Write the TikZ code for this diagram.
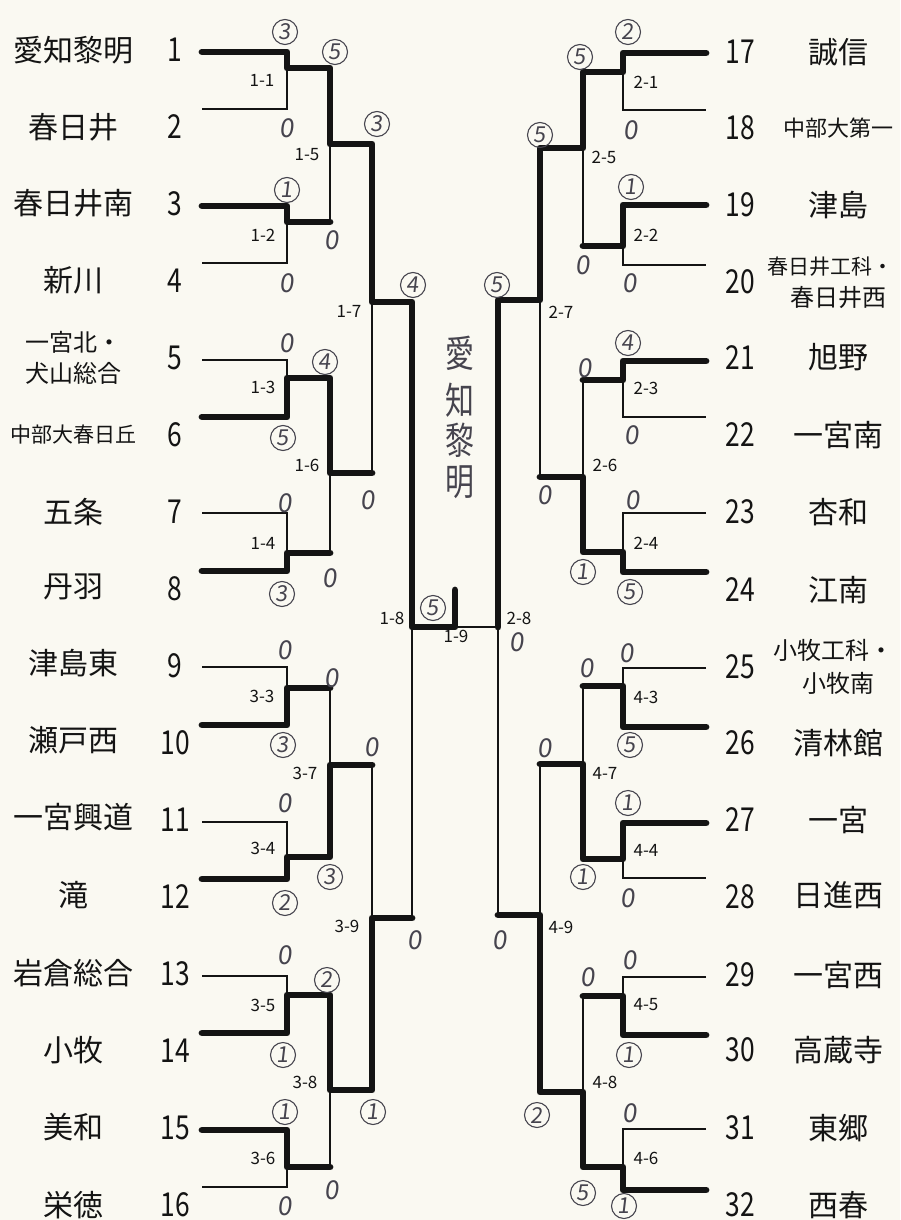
\documentclass[tikz,border=0pt]{standalone}
\usepackage{fontspec}
\usepackage{graphicx}
\setmainfont{Noto Sans CJK JP}
\newfontfamily\hand[FakeSlant=0.12]{Noto Sans CJK JP}
\definecolor{ink}{RGB}{20,20,20}
\definecolor{pen}{RGB}{70,68,78}
\definecolor{paper}{RGB}{250,249,242}
\newcommand\nm[1]{\scalebox{0.8}[1]{#1}}
\begin{document}
\begin{tikzpicture}[x=1pt,y=-1pt,
  bl/.style={line width=2.6pt, draw=ink},
  wl/.style={line width=6.8pt, draw=ink, line cap=round, line join=round},
  tname/.style={font=\fontsize{30}{30}\selectfont, text=ink, inner sep=0pt},
  sname/.style={font=\fontsize{21}{21}\selectfont, text=ink, inner sep=0pt},
  mname/.style={font=\fontsize{24}{24}\selectfont, text=ink, inner sep=0pt},
  tnum/.style={font=\fontsize{33}{33}\selectfont, text=ink, inner sep=0pt},
  mlab/.style={font=\fontsize{17}{17}\selectfont, text=ink, inner sep=0pt},
  win/.style={circle, draw=pen, line width=1.1pt, inner sep=0pt, minimum size=25pt, text=pen, font=\hand\fontsize{22}{22}\selectfont},
  lose/.style={text=pen, inner sep=0pt, font=\hand\fontsize{26}{26}\selectfont},
  handtxt/.style={text=pen, inner sep=0pt, font=\fontsize{34}{34}\selectfont},
]
\fill[paper] (0,0) rectangle (900,1220);
\useasboundingbox (0,0) rectangle (900,1220);

% ---------- left bracket (thin) ----------
\foreach \a/\b/\o in {52/109/68, 206/263/222, 360/417/378, 513/571/553, 667/725/688, 822/879/857, 976/1033/995, 1130/1187/1167}
  {\draw[bl] (202,\a) -- (287,\a) -- (287,\b) -- (202,\b);
   \draw[bl] (287,\o) -- (330,\o);}
\foreach \a/\b/\o in {68/222/144, 378/553/473, 688/857/765, 995/1167/1090}
  {\draw[bl] (330,\a) -- (330,\b); \draw[bl] (330,\o) -- (372,\o);}
\foreach \a/\b/\o in {144/473/302, 765/1090/918}
  {\draw[bl] (372,\a) -- (372,\b); \draw[bl] (372,\o) -- (412,\o);}
\draw[bl] (412,302) -- (412,918);
\draw[bl] (412,627) -- (498,627);

% ---------- right bracket (thin) ----------
\foreach \a/\b/\o in {53/110/72, 205/265/246, 361/417/380, 513/572/552, 668/727/686, 823/878/859, 977/1035/996, 1129/1190/1167}
  {\draw[bl] (706,\a) -- (623,\a) -- (623,\b) -- (706,\b);
   \draw[bl] (623,\o) -- (583,\o);}
\foreach \a/\b/\o in {72/246/148, 380/552/477, 686/859/764, 996/1167/1092}
  {\draw[bl] (583,\a) -- (583,\b); \draw[bl] (583,\o) -- (540,\o);}
\foreach \a/\b/\o in {148/477/300, 764/1092/915}
  {\draw[bl] (540,\a) -- (540,\b); \draw[bl] (540,\o) -- (498,\o);}
\draw[bl] (498,300) -- (498,915);

% ---------- winners (thick) left ----------
\draw[wl] (202,52) -- (287,52) -- (287,68) -- (330,68) -- (330,144) -- (372,144) -- (372,302) -- (412,302) -- (412,627) -- (455,627) -- (455,590);
\draw[wl] (202,206) -- (287,206) -- (287,222) -- (330,222);
\draw[wl] (202,417) -- (287,417) -- (287,378) -- (330,378) -- (330,473) -- (372,473);
\draw[wl] (202,571) -- (287,571) -- (287,553) -- (330,553);
\draw[wl] (202,725) -- (287,725) -- (287,688) -- (330,688);
\draw[wl] (202,879) -- (287,879) -- (287,857) -- (330,857) -- (330,765) -- (372,765);
\draw[wl] (202,1033) -- (287,1033) -- (287,995) -- (330,995) -- (330,1090) -- (372,1090) -- (372,918) -- (412,918);
\draw[wl] (202,1130) -- (287,1130) -- (287,1167) -- (330,1167);
% ---------- winners (thick) right ----------
\draw[wl] (706,53) -- (623,53) -- (623,72) -- (583,72) -- (583,148) -- (540,148) -- (540,300) -- (498,300) -- (498,627);
\draw[wl] (706,205) -- (623,205) -- (623,246) -- (583,246);
\draw[wl] (706,361) -- (623,361) -- (623,380) -- (583,380);
\draw[wl] (706,572) -- (623,572) -- (623,552) -- (583,552) -- (583,477) -- (540,477);
\draw[wl] (706,727) -- (623,727) -- (623,686) -- (583,686);
\draw[wl] (706,823) -- (623,823) -- (623,859) -- (583,859) -- (583,764) -- (540,764);
\draw[wl] (706,1035) -- (623,1035) -- (623,996) -- (583,996);
\draw[wl] (706,1190) -- (623,1190) -- (623,1167) -- (583,1167) -- (583,1092) -- (540,1092) -- (540,915) -- (498,915);

% ---------- team numbers ----------
\foreach \i/\y in {1/50,2/127,3/204,4/281,5/358,6/435,7/512,8/589,9/666,10/743,11/820,12/897,13/974,14/1051,15/1128,16/1205}
  \node[tnum] (n\i) at (175,\y) {\nm{\i}};
\foreach \i/\y in {17/52,18/128,19/205,20/282,21/358,22/435,23/512,24/590,25/667,26/743,27/820,28/897,29/975,30/1050,31/1128,32/1205}
  \node[tnum] (n\i) at (740,\y) {\nm{\i}};

% ---------- team names ----------
\foreach \i/\y/\t in {1/50/愛知黎明, 2/127/春日井, 3/203/春日井南, 4/280/新川, 7/512/五条, 8/587/丹羽, 9/663/津島東, 10/740/瀬戸西, 11/817/一宮興道, 12/895/滝, 13/973/岩倉総合, 14/1050/小牧, 15/1127/美和, 16/1205/栄徳}
  \node[tname] (t\i) at (73,\y) {\t};
\node[mname] (t5a) at (73,342) {一宮北・};
\node[mname] (t5b) at (73,373) {犬山総合};
\node[sname] (t6) at (73,435) {中部大春日丘};
\foreach \i/\y/\t in {17/52/誠信, 19/205/津島, 21/357/旭野, 22/435/一宮南, 23/512/杏和, 24/590/江南, 26/743/清林館, 27/820/一宮, 28/895/日進西, 29/975/一宮西, 30/1050/高蔵寺, 31/1128/東郷, 32/1205/西春}
  \node[tname] (t\i) at (838,\y) {\t};
\node[sname, font=\fontsize{22}{22}\selectfont] (t18) at (838,128) {中部大第一};
\node[mname, font=\fontsize{21}{21}\selectfont, anchor=east] (t20a) at (894,267) {春日井工科・};
\node[mname] (t20b) at (838,297) {春日井西};
\node[mname, anchor=east] (t25a) at (894,650) {小牧工科・};
\node[mname] (t25b) at (838,683) {小牧南};

% ---------- match labels ----------
\foreach \k/\x/\y/\t in {a/262/80/1-1, b/263/235/1-2, c/307/155/1-5, d/349/311/1-7, e/263/387/1-3, f/307/465/1-6, g/263/543/1-4, h/392/618/1-8, i/262/696/3-3, j/305/773/3-7, k/263/848/3-4, l/347/926/3-9, m/263/1005/3-5, n/305/1082/3-8, o/263/1158/3-6, p/456/636/1-9}
  \node[mlab] (m\k) at (\x,\y) {\t};
\foreach \k/\x/\y/\t in {a/646/82/2-1, b/604/157/2-5, c/646/235/2-2, d/561/312/2-7, e/646/388/2-3, f/605/465/2-6, g/646/543/2-4, h/519/618/2-8, i/646/697/4-3, j/605/773/4-7, k/646/850/4-4, l/561/927/4-9, m/646/1005/4-5, n/605/1082/4-8, o/646/1158/4-6}
  \node[mlab] (r\k) at (\x,\y) {\t};

% ---------- scores ----------
\foreach \k/\x/\y/\s in {a/285/32/3, b/287/190/1, c/335/52/5, d/377/124/3, e/413/285/4, f/283/438/5, g/325/362/4, h/282/594/3, i/283/745/3, j/330/877/3, k/373/1112/1, l/285/903/2, m/283/1055/1, n/327/980/2, o/285/1112/1, p/433/608/5}
  \node[win] (sw\k) at (\x,\y) {\s};
\foreach \k/\x/\y in {a/287/128, b/287/283, c/332/240, d/368/500, e/287/343, f/330/578, g/285/503, h/285/650, i/332/678, j/372/747, k/285/803, l/285/955, m/332/1190, n/285/1206, o/415/940}
  \node[lose] (sl\k) at (\x,\y) {0};
\foreach \k/\x/\y/\s in {a/628/32/2, b/580/57/5, c/540/135/5, d/497/285/5, e/631/187/1, f/628/343/4, g/583/572/1, h/630/592/5, i/630/745/5, j/583/877/1, k/537/1115/2, l/628/803/1, m/629/1055/1, n/583/1193/5, o/624/1206/1}
  \node[win] (rw\k) at (\x,\y) {\s};
\foreach \k/\x/\y in {a/631/130, b/583/265, c/545/495, d/500/940, e/630/283, f/632/435, g/585/368, h/633/500, i/517/642, j/627/653, k/587/668, l/545/748, m/628/898, n/630/960, o/588/977, p/630/1113}
  \node[lose] (rl\k) at (\x,\y) {0};

% ---------- handwritten champion ----------
\foreach \k/\y/\c in {a/353/愛, b/400/知, c/440/黎, d/482/明}
  \node[handtxt] (ch\k) at (460,\y) {\scalebox{0.85}[1.1]{\c}};
\end{tikzpicture}
\end{document}
